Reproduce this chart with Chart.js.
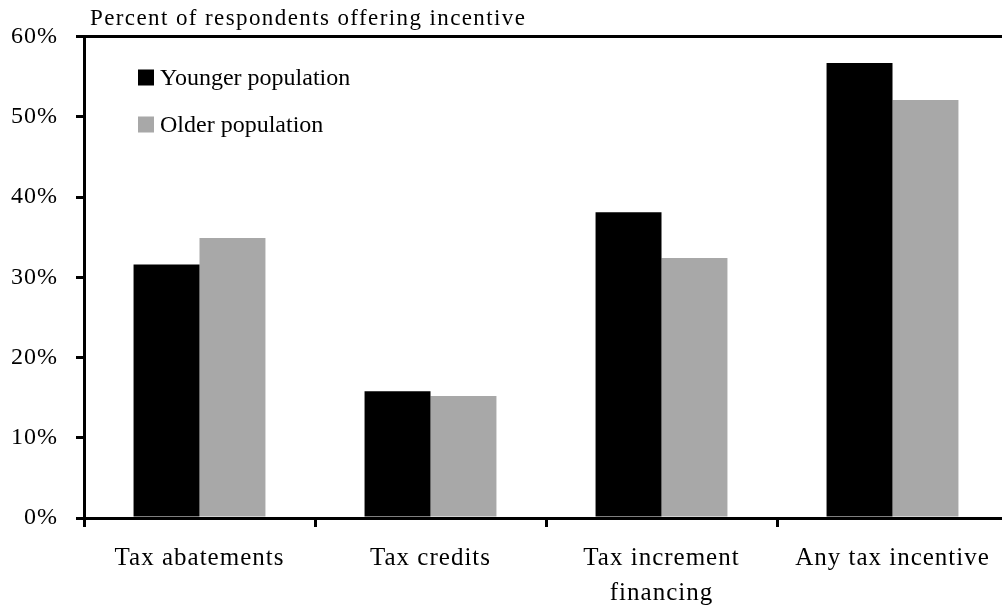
<!DOCTYPE html>
<html>
<head>
<meta charset="utf-8">
<script src="https://cdn.jsdelivr.net/npm/chart.js@4"></script>
<style>
  html, body { margin: 0; padding: 0; background: #fff; overflow: hidden; }
  #wrap { width: 1010px; height: 605px; }
</style>
</head>
<body>
<div id="wrap"><canvas id="myChart" width="1010" height="605"></canvas></div>
<script>
const categories = ["Tax abatements", "Tax credits", ["Tax increment", "financing"], "Any tax incentive"];
const youngerValues = [31.6, 15.8, 38.1, 56.7];
const olderValues = [34.9, 15.2, 32.4, 52.1];
const yTicks = [0, 10, 20, 30, 40, 50, 60];
const chartTitle = "Percent of respondents offering incentive";

const serif = '"Liberation Serif", "Times New Roman", serif';

// the source text is set a bit loose, so space the axis labels out
const looseText = {
  id: "looseText",
  afterInit(chart) {
    chart.ctx.letterSpacing = "1px";
  }
};

// legend + title drawn inside the plot, like the original
const insideLegend = {
  id: "insideLegend",
  afterDraw(chart) {
    const ctx = chart.ctx;
    const area = chart.chartArea;
    ctx.save();
    ctx.fillStyle = "#000";
    ctx.textBaseline = "alphabetic";
    ctx.textAlign = "left";
    ctx.font = "23px " + serif;
    ctx.letterSpacing = "1.4px";
    ctx.fillText(chartTitle, area.left + 6, 25);

    ctx.letterSpacing = "0px";
    ctx.font = "24px " + serif;
    ctx.textBaseline = "middle";
    chart.data.datasets.forEach((ds, i) => {
      const x = area.left + 54;
      const y = area.top + 41 + i * 47;
      ctx.fillStyle = ds.backgroundColor;
      ctx.fillRect(x, y - 8, 16, 16);
      ctx.fillStyle = "#000";
      ctx.fillText(ds.label, x + 22, y + 1);
    });
    ctx.restore();
  }
};

const ctx = document.getElementById("myChart").getContext("2d");
const myChart = new Chart(ctx, {
  type: "bar",
  data: {
    labels: categories,
    datasets: [
      {
        label: "Younger population",
        data: youngerValues,
        backgroundColor: "#000000",
        borderWidth: 0,
        categoryPercentage: 0.571,
        barPercentage: 1.0
      },
      {
        label: "Older population",
        data: olderValues,
        backgroundColor: "#a8a8a8",
        borderWidth: 0,
        categoryPercentage: 0.571,
        barPercentage: 1.0
      }
    ]
  },
  options: {
    responsive: false,
    animation: false,
    layout: { padding: { top: 36.5, right: 2, left: 0, bottom: 0 } },
    plugins: {
      legend: { display: false },
      title: { display: false },
      tooltip: { enabled: false }
    },
    scales: {
      x: {
        afterFit: (scale) => { scale.height = 87; },
        grid: {
          offset: true,
          drawOnChartArea: false,
          drawTicks: true,
          tickLength: 9,
          tickWidth: 3,
          tickColor: "#000"
        },
        border: { display: true, color: "#000", width: 3 },
        ticks: {
          color: "#000",
          padding: 14,
          maxRotation: 0,
          autoSkip: false,
          font: { family: serif, size: 25, lineHeight: 1.4 }
        }
      },
      y: {
        min: 0,
        max: 60,
        afterFit: (scale) => { scale.width = 84; },
        afterBuildTicks: (scale) => {
          scale.ticks = yTicks.map((v) => ({ value: v }));
        },
        grid: {
          drawOnChartArea: true,
          color: (c) => (c.tick && c.tick.value === 60 ? "#000" : "rgba(0,0,0,0)"),
          lineWidth: 3,
          drawTicks: true,
          tickLength: 8,
          tickWidth: 3,
          tickColor: "#000"
        },
        border: { display: true, color: "#000", width: 3 },
        ticks: {
          color: "#000",
          padding: 18,
          font: { family: serif, size: 24 },
          callback: (v) => v + "%"
        }
      }
    }
  },
  plugins: [looseText, insideLegend]
});
</script>
</body>
</html>
